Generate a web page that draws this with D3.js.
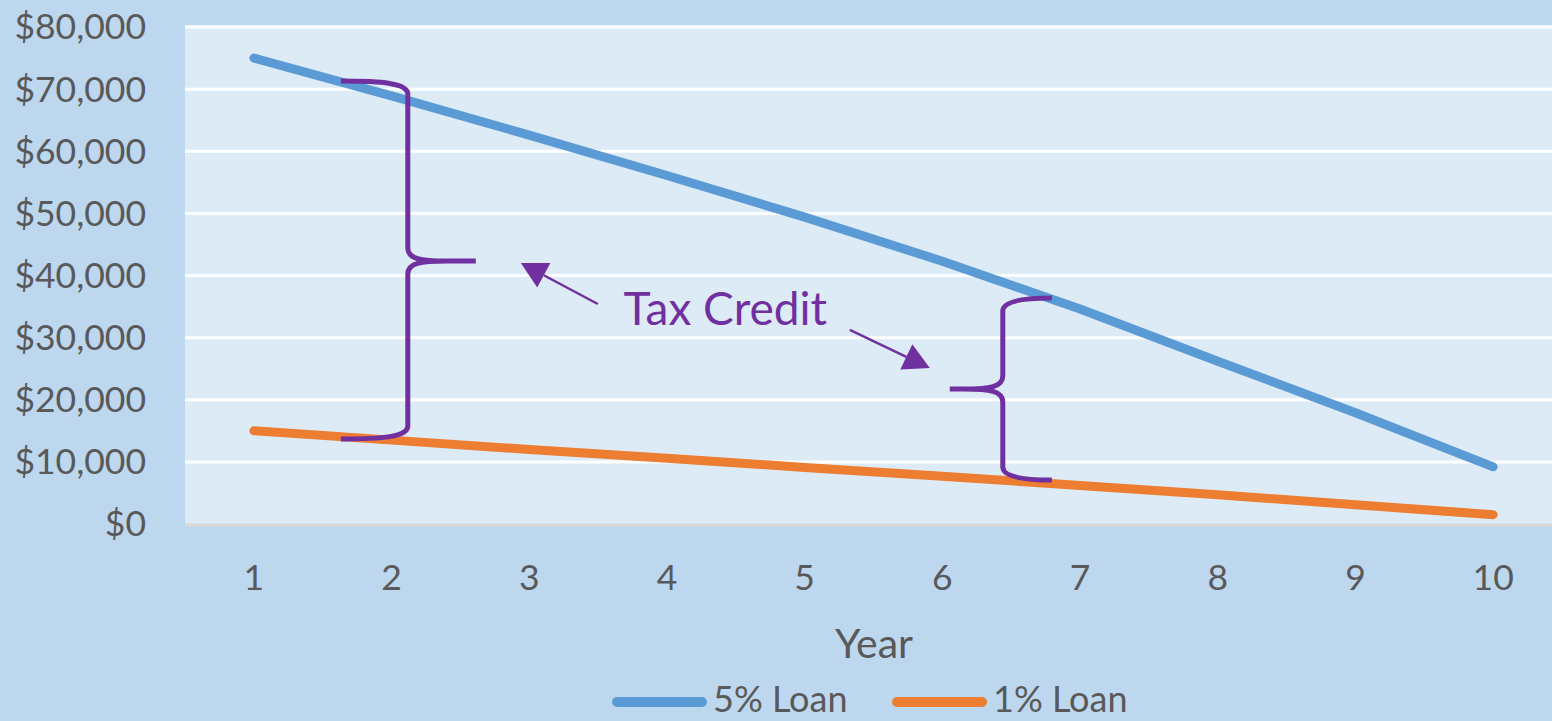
<!DOCTYPE html>
<html>
<head>
<meta charset="utf-8">
<script src="https://cdn.jsdelivr.net/npm/d3@7"></script>
<style>
  html, body { margin: 0; padding: 0; background: #BDD7EE; }
  svg { display: block; }
  text { font-family: Lato, "Open Sans", sans-serif; }
</style>
</head>
<body>
<svg id="chart"></svg>
<script>
// values
var years = [1, 2, 3, 4, 5, 6, 7, 8, 9, 10];
var loan5 = [75000, 68900, 62600, 56100, 49400, 42300, 34600, 26200, 17900, 9200];
var loan1 = [15000, 13500, 12000, 10600, 9100, 7700, 6200, 4700, 3100, 1500];
var yTicks = [0, 10000, 20000, 30000, 40000, 50000, 60000, 70000, 80000];
var seriesNames = ['5% Loan', '1% Loan'];
var seriesColors = ['#5B9BD5', '#ED7D31'];

// annotation anchors, in year / dollar units
var braces = [
	{ arm: 1.632, stem: 2.118, tip: 2.612, top: 71300, mid: 42330, bot: 13680 },
	{ arm: 6.795, stem: 6.439, tip: 6.054, top: 36380, mid: 21730, bot: 7080 }
];
var arrows = [
	{ x1: 3.498, y1: 35410, x2: 2.939, y2: 42010 },
	{ x1: 5.328, y1: 31230, x2: 5.909, y2: 25110 }
];
var note = { text: 'Tax Credit', x: 4.424, y: 32030 };

var width = 1552, height = 721;
var svg = d3.select('#chart').attr('width', width).attr('height', height);

var plotLeft = 185, step = 137.7;
var x = d3.scaleLinear().domain([0.5, 10.5]).range([plotLeft, plotLeft + 10 * step]);
var y = d3.scaleLinear().domain([0, 80000]).range([524, 27]);

// plot area
svg.append('rect')
	.attr('x', plotLeft).attr('y', y(80000) - 2)
	.attr('width', width - plotLeft).attr('height', y(0) - y(80000) + 2)
	.attr('fill', '#DDEBF7');

// gridlines
svg.append('g')
	.selectAll('line')
	.data(yTicks.filter(function(d) { return d > 0; }))
	.enter().append('line')
	.attr('x1', plotLeft).attr('x2', width)
	.attr('y1', function(d) { return y(d); })
	.attr('y2', function(d) { return y(d); })
	.attr('stroke', '#FFFFFF')
	.attr('stroke-width', 3);

// x axis line
svg.append('line')
	.attr('x1', plotLeft).attr('x2', width)
	.attr('y1', y(0) + 1).attr('y2', y(0) + 1)
	.attr('stroke', '#D9D9D9').attr('stroke-width', 3);

// y tick labels
svg.append('g')
	.selectAll('text')
	.data(yTicks)
	.enter().append('text')
	.attr('x', 146)
	.attr('y', function(d) { return y(d); })
	.attr('dy', '0.35em')
	.attr('text-anchor', 'end')
	.style('font-size', '35.5px')
	.style('fill', '#595959')
	.text(function(d) { return d3.format('$,')(d); });

// x tick labels
svg.append('g')
	.selectAll('text')
	.data(years)
	.enter().append('text')
	.attr('x', function(d) { return x(d); })
	.attr('y', 590)
	.attr('text-anchor', 'middle')
	.style('font-size', '35.5px')
	.style('fill', '#595959')
	.text(function(d) { return d; });

svg.append('text')
	.attr('x', 874).attr('y', 658)
	.attr('text-anchor', 'middle')
	.style('font-size', '41px')
	.style('fill', '#595959')
	.text('Year');

// series lines
var line = d3.line()
	.x(function(d, i) { return x(years[i]); })
	.y(function(d) { return y(d); });

[loan5, loan1].forEach(function(s, i) {
	svg.append('path')
		.datum(s)
		.attr('d', line)
		.attr('fill', 'none')
		.attr('stroke', seriesColors[i])
		.attr('stroke-width', 9)
		.attr('stroke-linecap', 'round')
		.attr('stroke-linejoin', 'round');
});

// braces
var purple = '#7030A0';
function bracePath(b) {
	var r = 13;
	var ax = x(b.arm), sx = x(b.stem), tx = x(b.tip);
	var yt = y(b.top), ym = y(b.mid), yb = y(b.bot);
	var s = sx > ax ? 1 : -1;
	var d = tx > sx ? 1 : -1;
	return 'M' + ax + ',' + yt +
		'C' + (sx - s * r * 2) + ',' + yt + ' ' + sx + ',' + (yt + 2) + ' ' + sx + ',' + (yt + r) +
		'L' + sx + ',' + (ym - r) +
		'C' + sx + ',' + (ym - 2) + ' ' + (sx + d * r) + ',' + ym + ' ' + (sx + d * 3 * r) + ',' + ym +
		'L' + tx + ',' + ym +
		'M' + (sx + d * 3 * r) + ',' + ym +
		'C' + (sx + d * r) + ',' + ym + ' ' + sx + ',' + (ym + 2) + ' ' + sx + ',' + (ym + r) +
		'L' + sx + ',' + (yb - r) +
		'C' + sx + ',' + (yb - 2) + ' ' + (sx - s * r * 2) + ',' + yb + ' ' + ax + ',' + yb;
}

svg.append('g')
	.selectAll('path')
	.data(braces)
	.enter().append('path')
	.attr('d', bracePath)
	.attr('fill', 'none')
	.attr('stroke', purple)
	.attr('stroke-width', 5);

// arrows
arrows.forEach(function(a) {
	var sx = x(a.x1), sy = y(a.y1), tx = x(a.x2), ty = y(a.y2);
	var len = Math.sqrt((tx - sx) * (tx - sx) + (ty - sy) * (ty - sy));
	var ux = (tx - sx) / len, uy = (ty - sy) / len;
	var head = 26, half = 14;
	var bx = tx - ux * head, by = ty - uy * head;
	svg.append('line')
		.attr('x1', sx).attr('y1', sy)
		.attr('x2', bx).attr('y2', by)
		.attr('stroke', purple).attr('stroke-width', 2.5);
	svg.append('path')
		.attr('d', 'M' + tx + ',' + ty +
			'L' + (bx - uy * half) + ',' + (by + ux * half) +
			'L' + (bx + uy * half) + ',' + (by - ux * half) + 'Z')
		.attr('fill', purple);
});

svg.append('text')
	.attr('x', x(note.x)).attr('y', y(note.y))
	.attr('text-anchor', 'middle')
	.style('font-size', '46px')
	.style('fill', purple)
	.text(note.text);

// legend
var legendX = [612, 892];
seriesNames.forEach(function(n, i) {
	var g = svg.append('g').attr('transform', 'translate(' + legendX[i] + ',702)');
	g.append('line')
		.attr('x1', 5).attr('x2', 90)
		.attr('stroke', seriesColors[i])
		.attr('stroke-width', 10)
		.attr('stroke-linecap', 'round');
	g.append('text')
		.attr('x', 101).attr('y', 10)
		.style('font-size', '36px')
		.style('fill', '#595959')
		.text(n);
});
</script>
</body>
</html>
